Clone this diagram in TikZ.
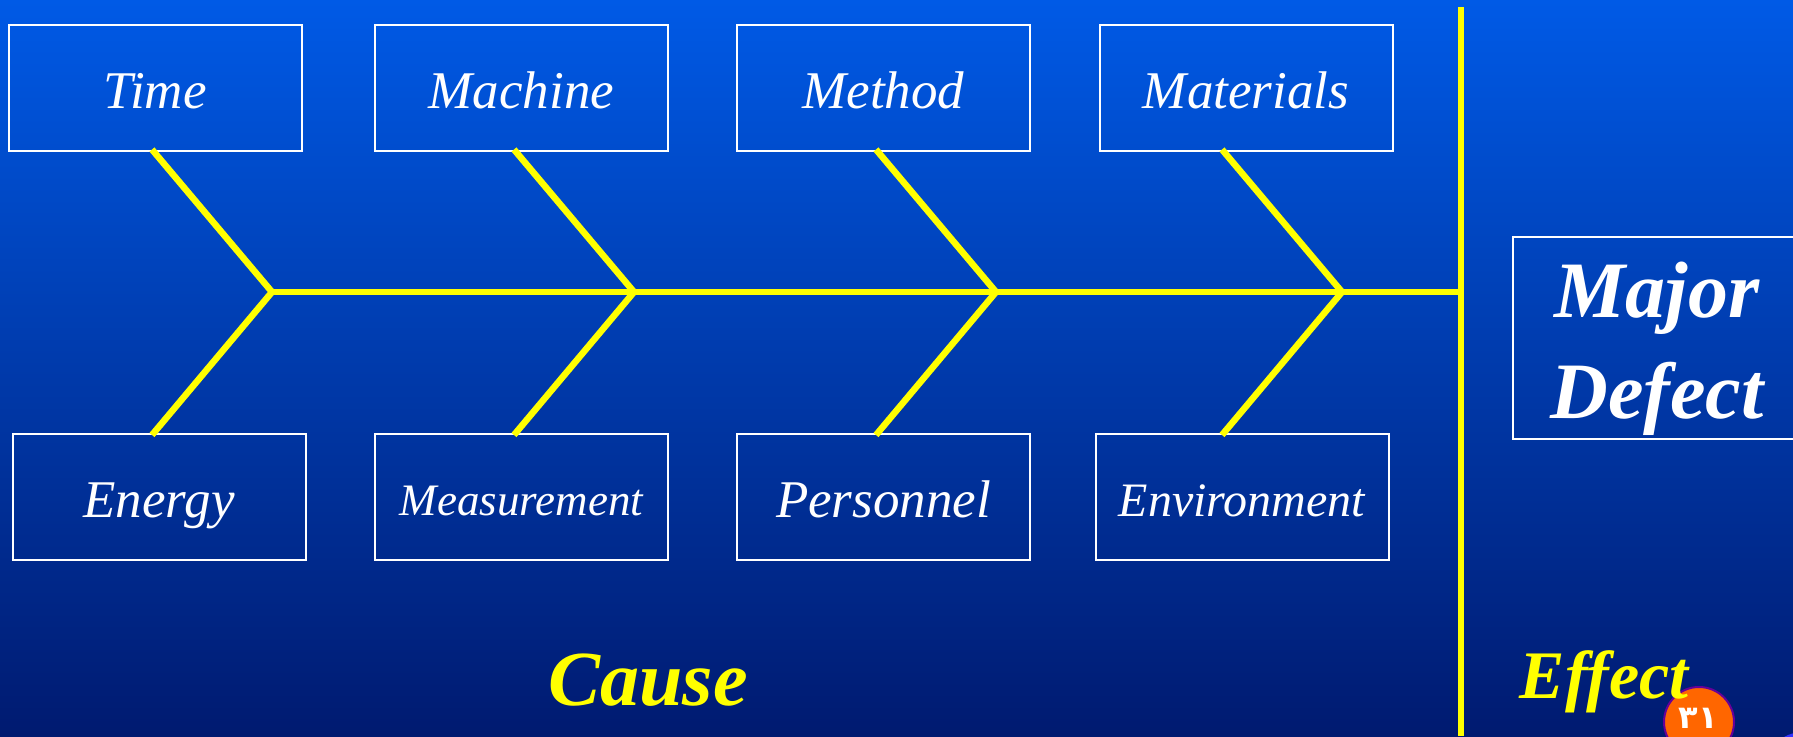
\documentclass[tikz,border=0pt]{standalone}
\usepackage{fontspec}
\setmainfont{Liberation Serif}
\newfontfamily\arabicfont[Script=Arabic]{DejaVu Sans}
\definecolor{bgtop}{HTML}{005AE6}
\definecolor{bgbot}{HTML}{001A70}
\definecolor{rib}{HTML}{FFFF00}
\definecolor{badge}{HTML}{FF6600}
\definecolor{badgeline}{HTML}{660099}
\definecolor{ball}{HTML}{3333FF}
\tikzset{
  causebox/.style={draw=white,line width=2pt,minimum width=293pt,minimum height=126pt,inner sep=0pt,text=white,text height=41pt,text depth=0pt,font=\itshape\fontsize{53}{60}\selectfont},
  bone/.style={draw=rib,line width=6.5pt,line cap=butt,line join=miter},
  banner/.style={text=rib,inner sep=0pt,anchor=base,font=\bfseries\itshape\fontsize{#1}{#1}\selectfont}
}
\begin{document}
\begin{tikzpicture}[x=1pt,y=-1pt]
\useasboundingbox (0,0) rectangle (1793,736);
\clip (0,0) rectangle (1793,736);
\shade[top color=bgtop,bottom color=bgbot] (0,0) rectangle (1793,736);

\node[causebox] (time) at (155,87.5) {Time};
\node[causebox] (machine) at (521.5,87.5) {Machine};
\node[causebox] (method) at (883.5,87.5) {Method};
\node[causebox] (materials) at (1246,87.5) {Materials};
\node[causebox] (energy) at (159,497) {Energy};
\node[causebox,text height=37pt,font=\itshape\fontsize{45}{50}\selectfont] (measurement) at (521.5,497) {Measurement};
\node[causebox] (personnel) at (883.5,497) {Personnel};
\node[causebox,text height=39pt,font=\itshape\fontsize{48}{54}\selectfont] (environment) at (1242,497) {Environment};
\node[draw=white,line width=2pt,minimum width=288pt,minimum height=202pt,inner sep=0pt] (defect) at (1657,338) {};
\node[text=white,inner sep=0pt,align=center,font=\bfseries\itshape\fontsize{80}{101}\selectfont] (defecttext) at (1657,349) {Major\\Defect};

\coordinate (j1) at (272,292);
\coordinate (j2) at (634,292);
\coordinate (j3) at (996,292);
\coordinate (j4) at (1342,292);
\coordinate (spinetop) at (1461,7);
\coordinate (spinebot) at (1461,736);
\coordinate (spinemid) at (1461,292);

\draw[bone] (spinetop) -- (spinebot);
\draw[bone] (j1) -- (j2) -- (j3) -- (j4) -- (spinemid);
\draw[bone] ([xshift=-3pt,yshift=2pt]time.south) -- (j1) -- ([xshift=-7pt,yshift=-2pt]energy.north);
\draw[bone] ([xshift=-7.5pt,yshift=2pt]machine.south) -- (j2) -- ([xshift=-7.5pt,yshift=-2pt]measurement.north);
\draw[bone] ([xshift=-7.5pt,yshift=2pt]method.south) -- (j3) -- ([xshift=-7.5pt,yshift=-2pt]personnel.north);
\draw[bone] ([xshift=-24pt,yshift=2pt]materials.south) -- (j4) -- ([xshift=-20pt,yshift=-2pt]environment.north);

\node[circle,fill=ball,minimum size=76pt,inner sep=0pt] (ballnode) at (1803,770) {};
\node[circle,fill=badge,draw=badgeline,line width=2pt,minimum width=70pt,inner sep=0pt] (pagenum) at (1699,722) {};
\node[text=white,inner sep=0pt,font=\arabicfont\bfseries\fontsize{32}{32}\selectfont] (pagetext) at (1698,718) {٣١};

\node[banner=78] (cause) at (648,705) {Cause};
\node[banner=68] (effect) at (1604,698) {Effect};
\end{tikzpicture}
\end{document}
